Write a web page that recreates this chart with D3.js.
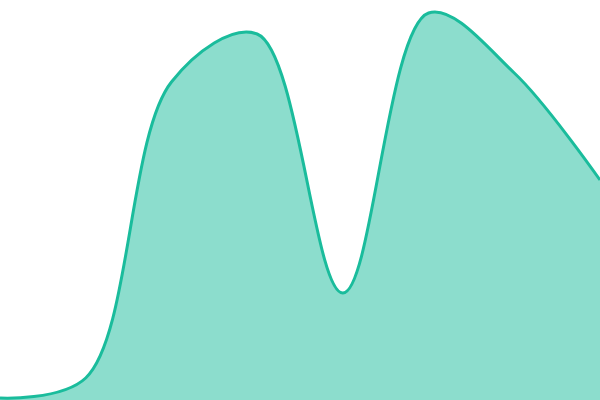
<!DOCTYPE html>
<html><head><meta charset="utf-8">
<script src="https://cdn.jsdelivr.net/npm/d3@7"></script>
<style>html,body{margin:0;padding:0;background:#fff;}svg{display:block;}</style>
</head><body>
<svg id="chart" width="600" height="400"></svg>
<script>
const categories = [0, 1, 2, 3, 4, 5, 6, 7];
const values = [0.5, 5.5, 79.5, 91.5, 26.75, 96.75, 81.75, 55];

const W = 600, H = 400;
const svg = d3.select("#chart");
const x = d3.scaleLinear().domain([0, 7]).range([0, W]);
const y = d3.scaleLinear().domain([0, 100]).range([H, 0]);
const data = categories.map((c, i) => ({c, v: values[i]}));

const curve = d3.curveCatmullRom.alpha(0.5);
const area = d3.area().x(d => x(d.c)).y0(H).y1(d => y(d.v)).curve(curve);
const line = d3.line().x(d => x(d.c)).y(d => y(d.v)).curve(curve);

svg.append("path").datum(data).attr("d", area).attr("fill", "#1abc9c").attr("fill-opacity", 0.5);
svg.append("path").datum(data).attr("d", line).attr("fill", "none").attr("stroke", "#1abc9c").attr("stroke-width", 3);
</script>
</body></html>
